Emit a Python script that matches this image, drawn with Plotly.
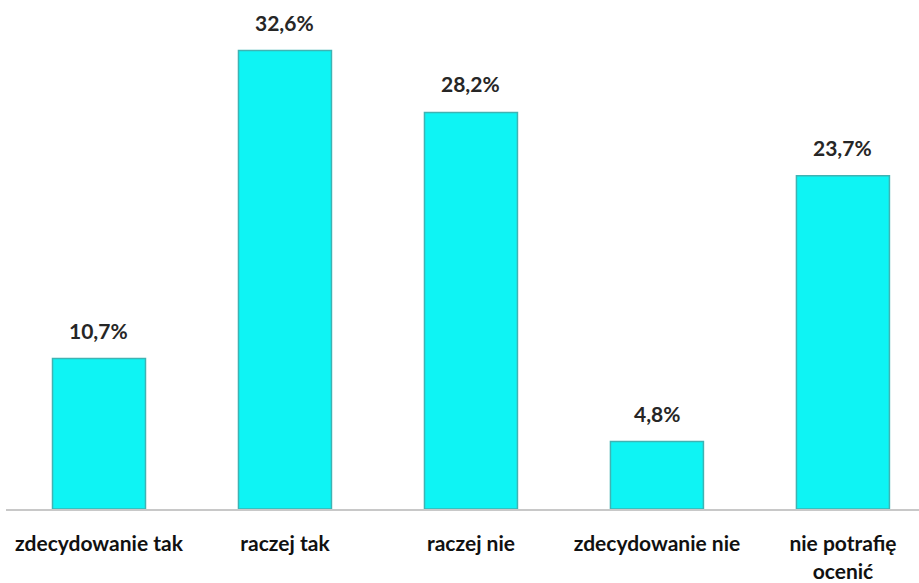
import plotly.graph_objects as go

categories = ["zdecydowanie tak", "raczej tak", "raczej nie", "zdecydowanie nie", "nie potrafię<br>ocenić"]
values = [10.7, 32.6, 28.2, 4.8, 23.7]
labels = ["10,7%", "32,6%", "28,2%", "4,8%", "23,7%"]

FONT = "Lato, Carlito, 'Liberation Sans Narrow', sans-serif"
positions = list(range(len(categories)))

fig = go.Figure()
fig.add_trace(go.Bar(
    x=positions,
    y=values,
    width=0.5,
    marker=dict(color="#0ef4f4", line=dict(color="#3fb3b3", width=1.5)),
    hoverinfo="skip",
))

for xv, yv, lab in zip(positions, values, labels):
    fig.add_annotation(
        x=xv, y=yv, text=f"<b>{lab}</b>", showarrow=False,
        yanchor="bottom", yshift=14,
        font=dict(family=FONT, size=21, color="#262626"),
    )

fig.update_layout(
    width=919, height=583,
    margin=dict(l=6, r=0, t=0, b=70),
    paper_bgcolor="white", plot_bgcolor="white",
    showlegend=False,
    xaxis=dict(
        range=[-0.5, 4.409],
        tickmode="array", tickvals=positions,
        ticktext=[f"<b>{c}</b>" for c in categories],
        tickfont=dict(family=FONT, size=21, color="#111111"),
        showgrid=False, zeroline=False,
        showline=True, linecolor="#c8c8c8", linewidth=2,
        ticks="", ticklabelstandoff=15,
    ),
    yaxis=dict(range=[0, 36.2], visible=False),
)

fig.write_html("out.html")
